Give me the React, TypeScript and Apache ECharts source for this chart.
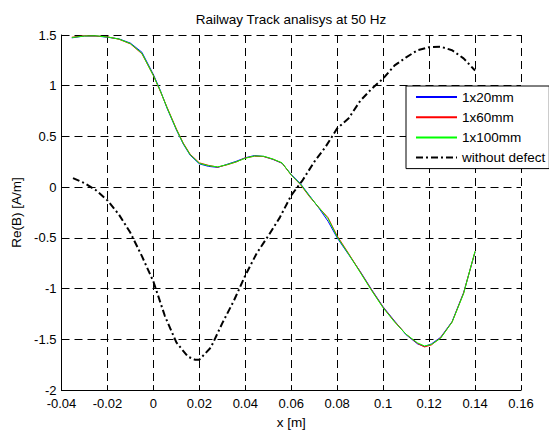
import React, { useEffect, useRef } from 'react';
import * as echarts from 'echarts';

// x positions (m) of the defect curves
const xDefect = [-0.0355, -0.03, -0.025, -0.02, -0.015, -0.01, -0.005, 0, 0.003, 0.006, 0.01, 0.013, 0.016, 0.02, 0.024, 0.028, 0.032, 0.036, 0.04, 0.044, 0.048, 0.052, 0.056, 0.06, 0.064, 0.068, 0.072, 0.076, 0.08, 0.085, 0.09, 0.095, 0.1, 0.105, 0.11, 0.115, 0.118, 0.121, 0.125, 0.13, 0.135, 0.14];
const re1x20 = [1.472, 1.49, 1.49, 1.478, 1.462, 1.42, 1.33, 1.11, 0.955, 0.775, 0.565, 0.425, 0.315, 0.23, 0.205, 0.195, 0.225, 0.255, 0.29, 0.312, 0.303, 0.274, 0.236, 0.125, 0.035, -0.085, -0.205, -0.335, -0.5, -0.665, -0.83, -1.01, -1.18, -1.32, -1.455, -1.545, -1.57, -1.545, -1.48, -1.325, -1.04, -0.64];
const re1x60 = [1.478, 1.492, 1.49, 1.482, 1.458, 1.412, 1.315, 1.1, 0.945, 0.785, 0.575, 0.435, 0.325, 0.24, 0.215, 0.198, 0.22, 0.248, 0.288, 0.305, 0.302, 0.276, 0.238, 0.118, 0.025, -0.095, -0.2, -0.3, -0.48, -0.655, -0.835, -1.015, -1.185, -1.325, -1.45, -1.54, -1.575, -1.555, -1.485, -1.33, -1.045, -0.635];
const re1x100 = [1.475, 1.49, 1.492, 1.48, 1.46, 1.415, 1.32, 1.1, 0.95, 0.78, 0.57, 0.43, 0.32, 0.235, 0.212, 0.2, 0.222, 0.25, 0.285, 0.308, 0.305, 0.278, 0.24, 0.12, 0.03, -0.09, -0.2, -0.31, -0.49, -0.66, -0.84, -1.02, -1.19, -1.33, -1.45, -1.535, -1.565, -1.55, -1.49, -1.33, -1.05, -0.63];

// curve without defect
const xClean = [-0.035, -0.03, -0.025, -0.02, -0.015, -0.01, -0.005, 0, 0.005, 0.01, 0.015, 0.018, 0.02, 0.025, 0.03, 0.035, 0.04, 0.045, 0.05, 0.055, 0.06, 0.065, 0.07, 0.075, 0.08, 0.085, 0.09, 0.095, 0.1, 0.105, 0.11, 0.115, 0.12, 0.125, 0.13, 0.135, 0.14];
const reClean = [0.09, 0.04, -0.03, -0.13, -0.27, -0.45, -0.68, -0.93, -1.27, -1.53, -1.67, -1.7, -1.7, -1.58, -1.34, -1.12, -0.87, -0.65, -0.48, -0.3, -0.08, 0.07, 0.25, 0.4, 0.58, 0.68, 0.85, 0.97, 1.07, 1.2, 1.28, 1.35, 1.38, 1.385, 1.35, 1.27, 1.15];

const seriesNames = ['1x20mm', '1x60mm', '1x100mm', 'without defect'];
const titleText = 'Railway Track analisys at 50 Hz';
const xName = 'x [m]';
const yName = 'Re(B) [A/m]';

const FONT = '"Liberation Sans", Arial, Helvetica, sans-serif';

const pairs = (xs: number[], ys: number[]) => xs.map((x, i) => [x, ys[i]]);
const fmt = (v: number) => String(+v.toFixed(2));

export default function App() {
  const ref = useRef<HTMLDivElement>(null);
  useEffect(() => {
    const chart = echarts.init(ref.current!, null, { renderer: 'svg' });
    const axisCommon = {
      type: 'value' as const,
      axisLine: { show: true, onZero: false, lineStyle: { color: '#000', width: 1 } },
      axisTick: { show: true, inside: true, length: 5, lineStyle: { color: '#000' } },
      axisLabel: { color: '#000', fontSize: 13, fontFamily: FONT, formatter: fmt },
      splitLine: { show: true, lineStyle: { color: '#000', width: 1, type: [8, 5] } },
      nameLocation: 'middle' as const,
      nameTextStyle: { color: '#000', fontSize: 13.5, fontFamily: FONT },
    };
    chart.setOption({
      animation: false,
      backgroundColor: '#fff',
      title: {
        text: titleText,
        left: 291,
        textAlign: 'center',
        top: 12,
        padding: 0,
        textStyle: { color: '#000', fontSize: 13.5, fontWeight: 'normal', fontFamily: FONT },
      },
      grid: { left: 61.5, right: 28, top: 35, bottom: 37, containLabel: false },
      xAxis: {
        ...axisCommon,
        min: -0.04,
        max: 0.16,
        interval: 0.02,
        name: xName,
        nameGap: 22,
        axisLabel: { ...axisCommon.axisLabel, margin: 7 },
      },
      yAxis: {
        ...axisCommon,
        min: -2,
        max: 1.5,
        interval: 0.5,
        name: yName,
        nameGap: 36,
        nameRotate: 90,
        axisLabel: { ...axisCommon.axisLabel, margin: 5 },
      },
      legend: {
        orient: 'vertical',
        left: 406,
        top: 86,
        padding: [3, 4, 3, 9],
        itemWidth: 41,
        itemHeight: 16,
        itemGap: 4.2,
        backgroundColor: '#fff',
        borderColor: '#000',
        borderWidth: 1,
        borderRadius: 0,
        itemStyle: { opacity: 0 },
        textStyle: { color: '#000', fontSize: 13.5, fontFamily: FONT, lineHeight: 16 },
        data: seriesNames,
      },
      series: [
        { name: seriesNames[0], type: 'line', symbol: 'none', data: pairs(xDefect, re1x20), lineStyle: { color: '#0000ff', width: 1 }, itemStyle: { color: '#0000ff' } },
        { name: seriesNames[1], type: 'line', symbol: 'none', data: pairs(xDefect, re1x60), lineStyle: { color: '#ff0000', width: 1 }, itemStyle: { color: '#ff0000' } },
        { name: seriesNames[2], type: 'line', symbol: 'none', data: pairs(xDefect, re1x100), lineStyle: { color: '#00ff00', width: 1 }, itemStyle: { color: '#00ff00' } },
        { name: seriesNames[3], type: 'line', symbol: 'none', data: pairs(xClean, reClean), lineStyle: { color: '#000', width: 2, type: [7, 3, 2, 3] }, itemStyle: { color: '#000' } },
      ],
    });
    return () => chart.dispose();
  }, []);
  return <div ref={ref} style={{ position: 'fixed', left: 0, top: 0, width: 549, height: 434, background: '#fff' }} />;
}
